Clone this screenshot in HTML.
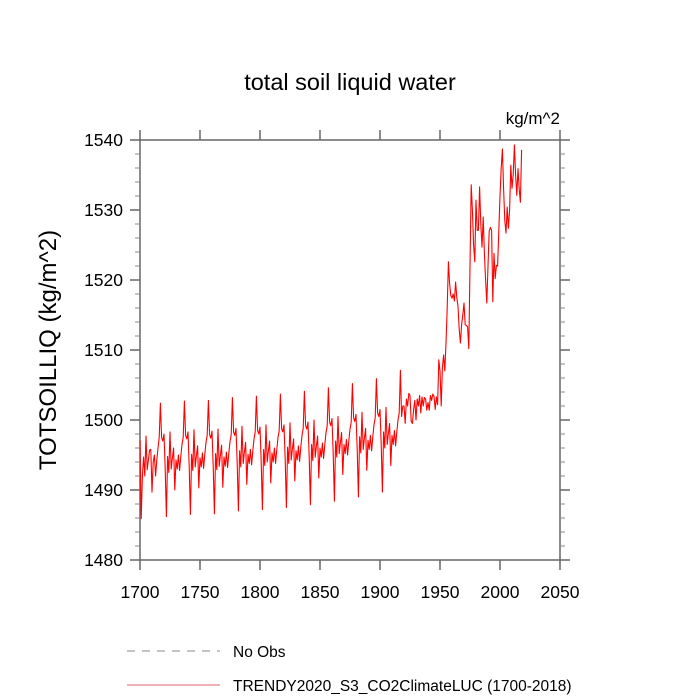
<!DOCTYPE html>
<html><head><meta charset="utf-8"><style>
html,body{margin:0;padding:0;background:#fff;}
svg{display:block;font-family:"Liberation Sans",sans-serif;}
</style></head><body>
<svg id="chart" width="700" height="700">
<text x="350" y="90" font-size="23.5" text-anchor="middle">total soil liquid water</text>
<text x="560" y="124" font-size="17" text-anchor="end">kg/m^2</text>
<text transform="translate(56,350) rotate(-90)" font-size="24" text-anchor="middle">TOTSOILLIQ  (kg/m^2)</text>
<g id="axes"></g>
<g id="series"></g>
<g>
<line x1="127" y1="651" x2="220" y2="651" stroke="#888" stroke-width="1" stroke-dasharray="8,7"/>
<text x="233" y="657" font-size="15.5">No Obs</text>
<line x1="127" y1="685" x2="220" y2="685" stroke="#e06070" stroke-width="1"/>
<text x="233" y="691" font-size="15.5">TRENDY2020_S3_CO2ClimateLUC (1700-2018)</text>
</g>
</svg>
<script>
const startYear = 1700;
const xTicks = [1700,1750,1800,1850,1900,1950,2000,2050];
const yTicks = [1480,1490,1500,1510,1520,1530,1540];
const values = [
1497.1,1485.9,1492,1494.7,1492,1497.7,1492.9,1494.3,1495.7,1495.8,1489.7,1494,1495,1492,1494.3,1496,1497.5,
1502.4,1497.5,1497.0,1498.0,1493.0,1486.2,1494.8,1492.5,1498.3,1493.0,1494.6,1496.0,1490.0,1494.3,1493.0,1495.0,1492.8,1494.8,1496.5,1497.5,
1502.7,1497.8,1497.3,1498.3,1493.3,1486.5,1495.1,1492.8,1498.6,1493.3,1494.9,1496.3,1490.3,1494.6,1493.3,1495.3,1493.1,1495.1,1496.8,1497.8,
1502.8,1497.9,1497.4,1498.4,1493.4,1486.6,1495.2,1492.9,1498.7,1493.4,1495.0,1496.4,1490.4,1494.7,1493.4,1495.4,1493.2,1495.2,1496.9,1497.9,
1503.2,1498.3,1497.8,1498.8,1493.8,1487.0,1495.6,1493.3,1499.1,1493.8,1495.4,1496.8,1490.8,1495.1,1493.8,1495.8,1493.6,1495.6,1497.3,1498.3,
1503.4,1498.5,1498.0,1499.0,1494.0,1487.2,1495.8,1493.5,1499.3,1494.0,1495.6,1497.0,1491.0,1495.3,1494.0,1496.0,1493.8,1495.8,1497.5,1498.5,
1503.7,1498.8,1498.3,1499.3,1494.3,1487.5,1496.1,1493.8,1499.6,1494.3,1495.9,1497.3,1491.3,1495.6,1494.3,1496.3,1494.1,1496.1,1497.8,1498.8,
1504.1,1499.2,1498.7,1499.7,1494.7,1487.9,1496.5,1494.2,1500.0,1494.7,1496.3,1497.7,1491.7,1496.0,1494.7,1496.7,1494.5,1496.5,1498.2,1499.2,
1504.6,1499.7,1499.2,1500.2,1495.2,1488.4,1497.0,1494.7,1500.5,1495.2,1496.8,1498.2,1492.2,1496.5,1495.2,1497.2,1495.0,1497.0,1498.7,1499.7,
1505.2,1500.3,1499.8,1500.8,1495.8,1489.0,1497.6,1495.3,1501.1,1495.8,1497.4,1498.8,1492.8,1497.1,1495.8,1497.8,1495.6,1497.6,1499.3,1500.3,
1505.9,1501.0,1500.5,1501.5,1496.5,1489.7,1498.3,1496.0,1501.8,1496.5,1498.1,1499.5,1493.5,1497.8,1496.5,1498.5,1496.3,1498.3,1500.0,1501.0,
1507.1,1500.5,1502,1502,1499.5,1503,1502,1503.8,1503.5,1499.8,1499.5,1501.5,1502.8,1500,1503,1502,1503.5,1501,1503.3,1502,
1503.2,1503,1501.4,1502.5,1501.4,1503.5,1502.8,1503.7,1503.4,1501.5,1503.3,1502.2,1508.6,1507,1502,1507.5,1509.3,1507,1511,1516,
1522.6,1519.5,1517.8,1517.4,1518,1517,1519.7,1517.5,1516.2,1513,1511,1513.6,1515,1516.7,1513.6,1513.5,1513.3,1510.2,1522,1533.6,
1530,1525,1522.6,1531.4,1527.1,1527.1,1533.3,1528,1524.7,1529,1523.8,1520,1516.7,1522,1527,1527.5,1527.1,1516.9,1523.8,1520.2,
1522.1,1522,1527,1532,1536,1538.7,1533,1528.5,1526.7,1530.4,1527.4,1530,1536.4,1533.1,1535,1539.3,1535,1532.1,1535.9,1533,
1531.1,1538.6
];
const L=140,R=560,T=140,B=560;
const xMin=1700,xMax=2050,yMin=1480,yMax=1540;
const sx=v=>L+(v-xMin)/(xMax-xMin)*(R-L);
const sy=v=>B-(v-yMin)/(yMax-yMin)*(B-T);
const NS="http://www.w3.org/2000/svg";
const axes=document.getElementById('axes');
function mk(tag,attrs,parent){const e=document.createElementNS(NS,tag);for(const k in attrs)e.setAttribute(k,attrs[k]);parent.appendChild(e);return e;}
const frame=mk('rect',{x:L,y:T,width:R-L,height:B-T,fill:'none',stroke:'#666','stroke-width':1.5},axes);


xTicks.forEach(t=>{
  const x=sx(t);
  const a=mk('line',{x1:x,y1:B,x2:x,y2:B+10,stroke:'#666','stroke-width':1.5},axes);
  
  
  mk('line',{x1:x,y1:T,x2:x,y2:T-10,stroke:'#666','stroke-width':1.5},axes);
  const lb=mk('text',{x:x,y:B+38,'font-size':17.5,'text-anchor':'middle'},axes);
  lb.textContent=t;
  
  
});
yTicks.forEach(t=>{
  const y=sy(t);
  const a=mk('line',{x1:L-10,y1:y,x2:L,y2:y,stroke:'#666','stroke-width':1.5},axes);
  
  
  mk('line',{x1:R,y1:y,x2:R+10,y2:y,stroke:'#666','stroke-width':1.5},axes);
  const lb=mk('text',{x:L-17,y:y+6,'font-size':17.5,'text-anchor':'end'},axes);
  lb.textContent=t;
  
  
});
for(let v=yMin;v<=yMax;v+=2){
  if(v%10===0)continue;
  const y=sy(v);
  mk('line',{x1:L-5,y1:y,x2:L,y2:y,stroke:'#888','stroke-width':1},axes);
  mk('line',{x1:R,y1:y,x2:R+5,y2:y,stroke:'#888','stroke-width':1},axes);
}
const pts=values.map((v,i)=>sx(startYear+i).toFixed(2)+','+sy(v).toFixed(2)).join(' ');
const line=mk('polyline',{points:pts,fill:'none',stroke:'#ff0000','stroke-width':1.1,'stroke-linejoin':'round'},document.getElementById('series'));


</script>
</body></html>
